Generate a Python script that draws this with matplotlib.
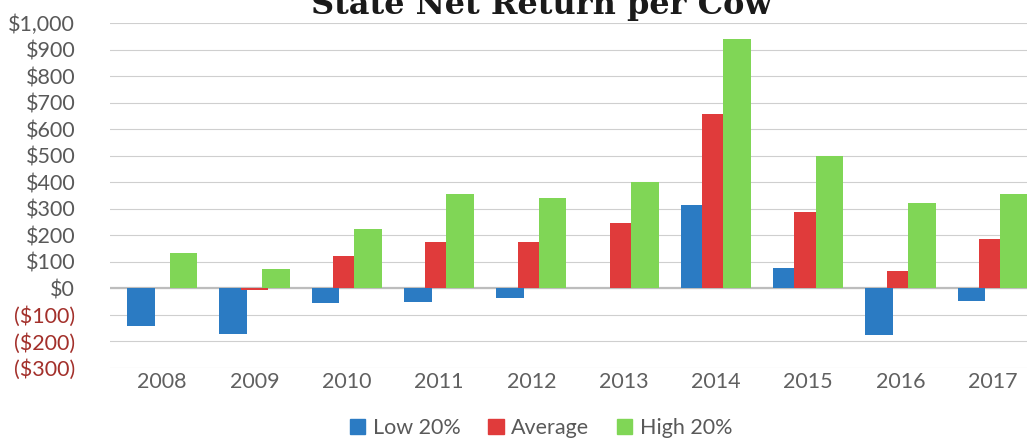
import numpy as np
import matplotlib
matplotlib.use("Agg")
import matplotlib.pyplot as plt
from matplotlib.patches import Patch

# data
years = ["2008", "2009", "2010", "2011", "2012", "2013", "2014", "2015", "2016", "2017"]
low20 = [-143, -171, -54, -53, -35, 0, 315, 77, -177, -48]
average = [0, -6, 121, 175, 175, 246, 656, 287, 66, 186]
high20 = [135, 72, 222, 355, 340, 402, 940, 497, 323, 356]

series_names = ["Low 20%", "Average", "High 20%"]
colors = ["#2b7bc3", "#e03b3b", "#80d656"]

plt.rcParams["font.family"] = ["Lato", "DejaVu Sans"]

fig = plt.figure(figsize=(10.27, 4.43), dpi=100)
ax = fig.add_axes([110 / 1027, 1 - 368 / 443, 929 / 1027, 345 / 443])

x = np.arange(len(years))
step = 0.23
width = 0.30
for k, (vals, c) in enumerate(zip([low20, average, high20], colors)):
    ax.bar(x + (k - 1) * step, vals, width, color=c, zorder=3)

ax.set_xlim(-0.565, 9.5)
ax.set_ylim(-300, 1000)
yt = np.arange(-300, 1001, 100)
ax.set_yticks(yt)
ylabels = []
for v in yt:
    if v < 0:
        ylabels.append("(${:,})".format(-v))
    else:
        ylabels.append("${:,}".format(v))
ax.set_yticklabels(ylabels, fontsize=15.5)
for lab, v in zip(ax.get_yticklabels(), yt):
    lab.set_color("#a3302b" if v < 0 else "#595959")

ax.set_xticks(x)
ax.set_xticklabels(years, fontsize=15.5, color="#606060")
ax.tick_params(axis="both", length=0)
ax.tick_params(axis="y", pad=25)
ax.tick_params(axis="x", pad=3)

ax.grid(axis="y", color="#cfcfcf", lw=0.8, zorder=0)
ax.axhline(0, color="#bdbdbd", lw=1.6, zorder=2)
for s in ax.spines.values():
    s.set_visible(False)

# title sits partly above the top edge, as in the scan
fig.text(0.527, 1 - 14 / 443, "State Net Return per Cow", ha="center",
         va="baseline", fontsize=23, fontweight="bold", family="DejaVu Serif",
         color="#1a1a1a")

handles = [Patch(color=c) for c in colors]
fig.legend(handles, series_names, loc="center", bbox_to_anchor=(0.527, 0.034),
           ncol=3, frameon=False, fontsize=15.5, handlelength=0.7,
           handleheight=0.7, handletextpad=0.35, columnspacing=1.3,
           labelcolor="#595959")

fig.savefig("out.png", dpi=100)
